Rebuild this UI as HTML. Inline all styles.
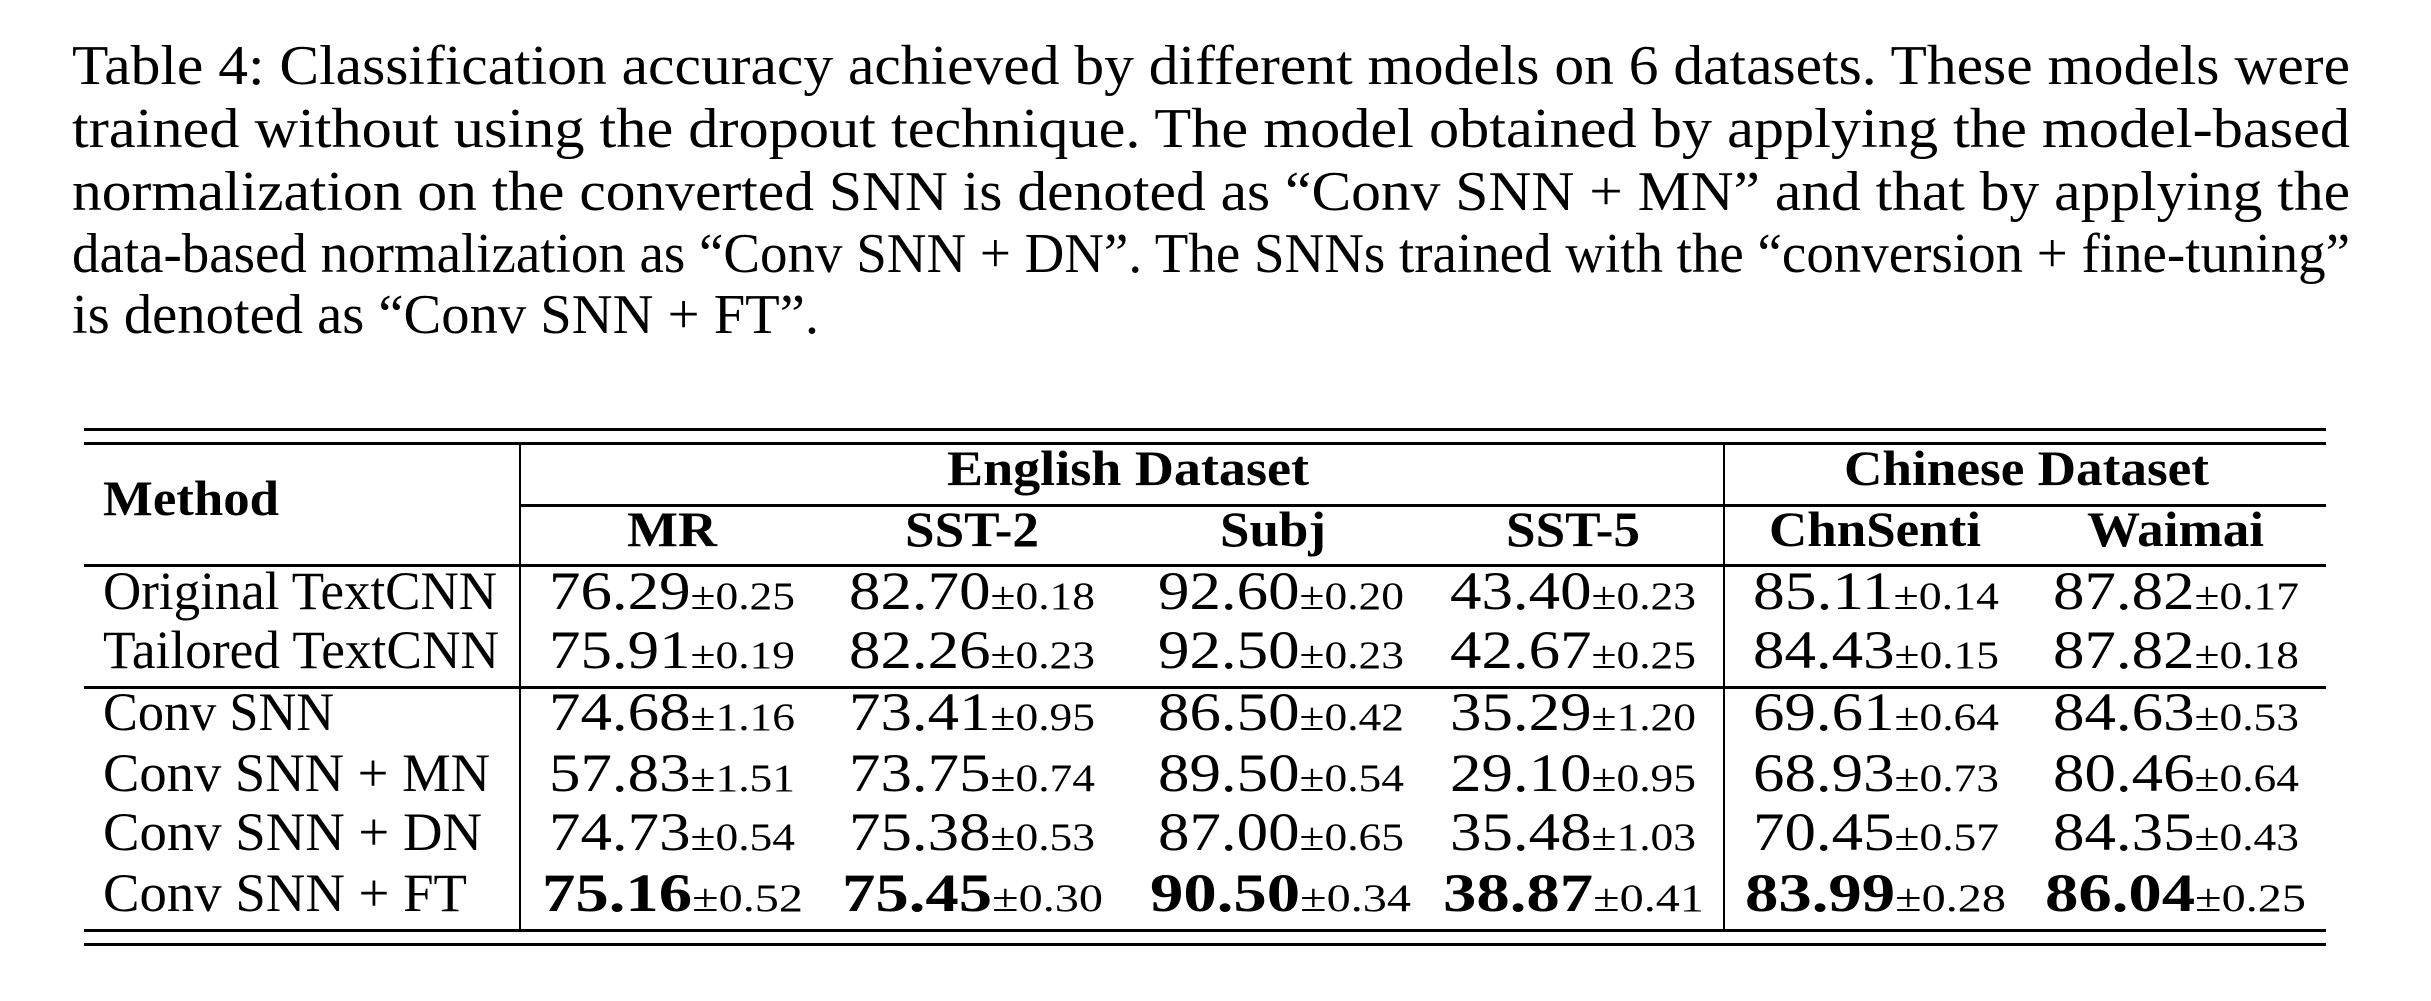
<!DOCTYPE html>
<html><head><meta charset="utf-8"><style>
html,body{margin:0;padding:0;background:#fff;}
svg{display:block;}
text{font-family:"Liberation Serif",serif;fill:#000;}
.c{font-size:56px;}
.h{font-size:50px;font-weight:bold;}
.d{font-size:54px;}
.s{font-size:39px;}
.b{font-weight:bold;}
</style></head><body>
<svg width="2431" height="1001" viewBox="0 0 2431 1001" xmlns="http://www.w3.org/2000/svg">
<g class="c">
<text x="72" y="84" textLength="2278" lengthAdjust="spacingAndGlyphs">Table 4:  Classification accuracy achieved by different models on 6 datasets. These models were</text>
<text x="72" y="147" textLength="2278" lengthAdjust="spacingAndGlyphs">trained without using the dropout technique.  The model obtained by applying the model-based</text>
<text x="72" y="210" textLength="2278" lengthAdjust="spacingAndGlyphs">normalization on the converted SNN is denoted as “Conv SNN + MN” and that by applying the</text>
<text x="72" y="272" textLength="2278" lengthAdjust="spacingAndGlyphs">data-based normalization as “Conv SNN + DN”. The SNNs trained with the “conversion + fine-tuning”</text>
<text x="72" y="333" textLength="747" lengthAdjust="spacingAndGlyphs">is denoted as “Conv SNN + FT”.</text>
</g>
<g fill="#000">
<rect x="84" y="428" width="2242" height="3"/>
<rect x="84" y="442" width="2242" height="3"/>
<rect x="520" y="504" width="1806" height="3"/>
<rect x="84" y="564" width="2242" height="3"/>
<rect x="84" y="686" width="2242" height="3"/>
<rect x="84" y="929" width="2242" height="3"/>
<rect x="84" y="943" width="2242" height="3"/>
<rect x="519" y="445" width="2" height="484"/>
<rect x="1723" y="445" width="2" height="484"/>
</g>
<g class="h">
<text x="103" y="515" textLength="176" lengthAdjust="spacingAndGlyphs">Method</text>
<text x="947" y="485" textLength="362" lengthAdjust="spacingAndGlyphs">English Dataset</text>
<text x="1844" y="485" textLength="365" lengthAdjust="spacingAndGlyphs">Chinese Dataset</text>
<text x="627" y="546" textLength="90" lengthAdjust="spacingAndGlyphs">MR</text>
<text x="905" y="546" textLength="134" lengthAdjust="spacingAndGlyphs">SST-2</text>
<text x="1220" y="546" textLength="106" lengthAdjust="spacingAndGlyphs">Subj</text>
<text x="1506" y="546" textLength="134" lengthAdjust="spacingAndGlyphs">SST-5</text>
<text x="1769" y="546" textLength="212" lengthAdjust="spacingAndGlyphs">ChnSenti</text>
<text x="2087" y="546" textLength="177" lengthAdjust="spacingAndGlyphs">Waimai</text>
</g>
<g class="d">
<text x="103" y="609" textLength="394" lengthAdjust="spacingAndGlyphs">Original TextCNN</text>
<text x="103" y="668" textLength="396" lengthAdjust="spacingAndGlyphs">Tailored TextCNN</text>
<text x="103" y="730" textLength="231" lengthAdjust="spacingAndGlyphs">Conv SNN</text>
<text x="103" y="791" textLength="387" lengthAdjust="spacingAndGlyphs">Conv SNN + MN</text>
<text x="103" y="850" textLength="379" lengthAdjust="spacingAndGlyphs">Conv SNN + DN</text>
<text x="103" y="911" textLength="364" lengthAdjust="spacingAndGlyphs">Conv SNN + FT</text>
</g>
<g class="d">
<text x="549" y="609" textLength="246" lengthAdjust="spacingAndGlyphs">76.29<tspan class="s">±0.25</tspan></text>
<text x="849" y="609" textLength="246" lengthAdjust="spacingAndGlyphs">82.70<tspan class="s">±0.18</tspan></text>
<text x="1158" y="609" textLength="246" lengthAdjust="spacingAndGlyphs">92.60<tspan class="s">±0.20</tspan></text>
<text x="1450" y="609" textLength="246" lengthAdjust="spacingAndGlyphs">43.40<tspan class="s">±0.23</tspan></text>
<text x="1753" y="609" textLength="246" lengthAdjust="spacingAndGlyphs">85.11<tspan class="s">±0.14</tspan></text>
<text x="2053" y="609" textLength="246" lengthAdjust="spacingAndGlyphs">87.82<tspan class="s">±0.17</tspan></text>
<text x="549" y="668" textLength="246" lengthAdjust="spacingAndGlyphs">75.91<tspan class="s">±0.19</tspan></text>
<text x="849" y="668" textLength="246" lengthAdjust="spacingAndGlyphs">82.26<tspan class="s">±0.23</tspan></text>
<text x="1158" y="668" textLength="246" lengthAdjust="spacingAndGlyphs">92.50<tspan class="s">±0.23</tspan></text>
<text x="1450" y="668" textLength="246" lengthAdjust="spacingAndGlyphs">42.67<tspan class="s">±0.25</tspan></text>
<text x="1753" y="668" textLength="246" lengthAdjust="spacingAndGlyphs">84.43<tspan class="s">±0.15</tspan></text>
<text x="2053" y="668" textLength="246" lengthAdjust="spacingAndGlyphs">87.82<tspan class="s">±0.18</tspan></text>
<text x="549" y="730" textLength="246" lengthAdjust="spacingAndGlyphs">74.68<tspan class="s">±1.16</tspan></text>
<text x="849" y="730" textLength="246" lengthAdjust="spacingAndGlyphs">73.41<tspan class="s">±0.95</tspan></text>
<text x="1158" y="730" textLength="246" lengthAdjust="spacingAndGlyphs">86.50<tspan class="s">±0.42</tspan></text>
<text x="1450" y="730" textLength="246" lengthAdjust="spacingAndGlyphs">35.29<tspan class="s">±1.20</tspan></text>
<text x="1753" y="730" textLength="246" lengthAdjust="spacingAndGlyphs">69.61<tspan class="s">±0.64</tspan></text>
<text x="2053" y="730" textLength="246" lengthAdjust="spacingAndGlyphs">84.63<tspan class="s">±0.53</tspan></text>
<text x="549" y="791" textLength="246" lengthAdjust="spacingAndGlyphs">57.83<tspan class="s">±1.51</tspan></text>
<text x="849" y="791" textLength="246" lengthAdjust="spacingAndGlyphs">73.75<tspan class="s">±0.74</tspan></text>
<text x="1158" y="791" textLength="246" lengthAdjust="spacingAndGlyphs">89.50<tspan class="s">±0.54</tspan></text>
<text x="1450" y="791" textLength="246" lengthAdjust="spacingAndGlyphs">29.10<tspan class="s">±0.95</tspan></text>
<text x="1753" y="791" textLength="246" lengthAdjust="spacingAndGlyphs">68.93<tspan class="s">±0.73</tspan></text>
<text x="2053" y="791" textLength="246" lengthAdjust="spacingAndGlyphs">80.46<tspan class="s">±0.64</tspan></text>
<text x="549" y="850" textLength="246" lengthAdjust="spacingAndGlyphs">74.73<tspan class="s">±0.54</tspan></text>
<text x="849" y="850" textLength="246" lengthAdjust="spacingAndGlyphs">75.38<tspan class="s">±0.53</tspan></text>
<text x="1158" y="850" textLength="246" lengthAdjust="spacingAndGlyphs">87.00<tspan class="s">±0.65</tspan></text>
<text x="1450" y="850" textLength="246" lengthAdjust="spacingAndGlyphs">35.48<tspan class="s">±1.03</tspan></text>
<text x="1753" y="850" textLength="246" lengthAdjust="spacingAndGlyphs">70.45<tspan class="s">±0.57</tspan></text>
<text x="2053" y="850" textLength="246" lengthAdjust="spacingAndGlyphs">84.35<tspan class="s">±0.43</tspan></text>
<text x="542" y="911" textLength="261" lengthAdjust="spacingAndGlyphs"><tspan class="b">75.16</tspan><tspan class="s">±0.52</tspan></text>
<text x="842" y="911" textLength="261" lengthAdjust="spacingAndGlyphs"><tspan class="b">75.45</tspan><tspan class="s">±0.30</tspan></text>
<text x="1150" y="911" textLength="261" lengthAdjust="spacingAndGlyphs"><tspan class="b">90.50</tspan><tspan class="s">±0.34</tspan></text>
<text x="1443" y="911" textLength="261" lengthAdjust="spacingAndGlyphs"><tspan class="b">38.87</tspan><tspan class="s">±0.41</tspan></text>
<text x="1745" y="911" textLength="261" lengthAdjust="spacingAndGlyphs"><tspan class="b">83.99</tspan><tspan class="s">±0.28</tspan></text>
<text x="2045" y="911" textLength="261" lengthAdjust="spacingAndGlyphs"><tspan class="b">86.04</tspan><tspan class="s">±0.25</tspan></text>
</g>
</svg>
</body></html>
